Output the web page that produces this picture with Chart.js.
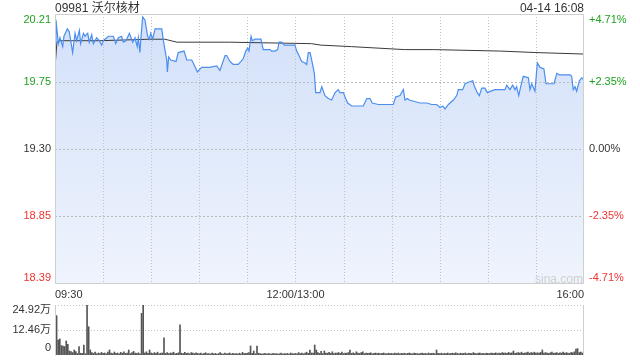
<!DOCTYPE html>
<html><head><meta charset="utf-8">
<script src="https://cdn.jsdelivr.net/npm/chart.js@4"></script>
<style>
html,body{margin:0;padding:0;background:#fff;width:640px;height:360px;overflow:hidden;font-family:'Liberation Sans','Noto Sans CJK SC',sans-serif;}
canvas{position:absolute;left:0;}
#main{top:0;}
#vol{top:300px;}
.t{position:absolute;font-size:12px;color:#333;line-height:16px;white-space:nowrap;}
</style></head>
<body>
<canvas id="main" width="640" height="300"></canvas>
<canvas id="vol" width="640" height="60"></canvas>
<div class="t" style="left:55px;top:0px;">09981 沃尔核材</div>
<div class="t" style="right:56px;top:0px;">04-14 16:08</div>
<div class="t" style="left:535px;top:271px;color:#cfcfcf;font-size:12px;">sina.com</div>
<script>
const titleText = '09981 沃尔核材';
const priceTicks = [20.21, 19.75, 19.30, 18.85, 18.39];
const priceTickLabels = ['20.21', '19.75', '19.30', '18.85', '18.39'];
const pctTickLabels = ['+4.71%', '+2.35%', '0.00%', '-2.35%', '-4.71%'];
const timeTickMinutes = [0, 30, 60, 90, 120, 150, 180, 210, 240, 270, 300, 330];
const timeTickLabels = {0: '09:30', 150: '12:00/13:00', 330: '16:00'};
const volTicks = [0, 12.46, 24.92];
const volTickLabels = ['0', '12.46万', '24.92万'];

const priceMinutes = [0,0.6,2.1,3.1,4.8,5.6,7.7,8.9,11.0,12.5,13.5,15.2,16.0,17.7,18.7,20.4,21.4,22.9,23.9,26.0,27.6,29.1,30.1,32.3,33.3,36.4,37.9,39.5,41.6,42.6,44.3,46.4,48.5,49.9,51.3,52.0,53.0,53.6,54.7,56.1,57.8,58.8,59.7,60.9,62.4,66.6,67.6,69.7,70.1,70.9,72.2,75.5,76.9,80.5,82.2,85.3,86.7,88.8,91.5,94.6,96.3,100.9,102.9,106.1,107.1,109.2,110.2,111.2,114.3,116.0,117.5,119.0,120.2,121.0,122.3,123.1,124.8,128.5,129.9,134.1,135.2,137.2,138.9,139.7,141.4,143.0,149.7,150.8,152.2,153.9,156.0,157.0,158.0,159.1,160.5,161.8,162.6,165.3,166.4,168.4,170.5,172.6,174.7,176.7,177.8,179.9,181.3,182.6,185.1,192.3,194.5,196.5,197.9,201.7,211.0,212.5,215.2,217.3,218.3,219.8,221.0,227.7,231.9,235.0,238.1,240.2,241.9,243.3,245.4,248.5,250.6,251.6,254.3,255.8,257.8,260.6,261.4,263.4,264.7,266.2,268.2,269.7,271.8,274.5,276.5,278.7,280.7,281.8,283.8,285.5,287.0,288.0,289.3,290.5,292.1,295.3,296.3,297.4,299.4,300.9,302.6,305.0,306.3,311.3,313.0,314.6,321.3,322.3,323.3,324.4,325.4,327.1,328.6,329.6];
const priceValues = [20.01,20.17,20.01,20.05,19.99,20.06,20.11,20.09,19.95,20.08,20.03,20.10,20.01,20.08,20.06,20.08,20.02,20.07,20.01,20.05,20.03,20.00,20.03,20.05,20.06,20.06,20.01,20.05,20.06,20.02,20.03,20.08,20.02,20.05,19.99,20.05,19.95,20.05,20.19,20.17,20.06,20.04,20.08,20.04,20.11,20.11,20.03,19.90,19.82,19.92,19.90,19.89,19.95,19.96,19.90,19.90,19.87,19.82,19.85,19.85,19.85,19.86,19.83,19.93,19.93,19.89,19.88,19.87,19.87,19.89,19.91,19.96,19.98,19.96,20.06,20.03,20.04,20.04,19.97,19.97,19.96,19.96,19.97,20.02,20.02,20.00,20.00,19.96,19.93,19.89,19.88,19.87,19.95,19.95,19.88,19.81,19.68,19.68,19.72,19.66,19.64,19.63,19.68,19.70,19.68,19.68,19.64,19.61,19.59,19.59,19.64,19.64,19.61,19.60,19.60,19.65,19.66,19.70,19.63,19.64,19.63,19.61,19.61,19.60,19.60,19.58,19.59,19.57,19.60,19.63,19.66,19.70,19.70,19.74,19.75,19.76,19.73,19.68,19.66,19.71,19.71,19.68,19.69,19.70,19.70,19.70,19.70,19.73,19.70,19.73,19.70,19.72,19.66,19.72,19.79,19.78,19.70,19.74,19.69,19.88,19.85,19.84,19.74,19.74,19.81,19.80,19.80,19.79,19.70,19.72,19.69,19.76,19.78,19.77];

const avgMinutes = [0, 1.2, 3.1, 12.5, 28, 59, 68.6, 76, 109, 160, 166, 185, 218, 236, 278, 300, 330];
const avgValues = [19.85, 20.02, 20.03, 20.03, 20.03, 20.04, 20.04, 20.02, 20.02, 20.01, 20.00, 19.99, 19.97, 19.97, 19.96, 19.95, 19.94];

const volumes = [
8.3,19.6,7.5,8.0,4.7,4.5,4.2,7.0,5.3,2.0,1.7,1.2,2.5,1.7,0.8,4.2,0.9,0.8,5.0,0.6,24.92,14.1,2.5,1.2,0.8,1.5,0.6,1.0,0.7,1.3,
0.8,1.0,0.6,1.4,2.5,0.9,0.7,1.5,0.8,1.0,0.6,1.3,0.9,1.6,0.8,1.0,2.5,0.7,1.2,1.8,0.9,0.8,1.1,0.6,20.8,24.92,1.0,1.6,0.8,2.5,
1.0,0.7,1.2,0.8,1.4,0.6,0.9,1.0,8.6,0.8,1.2,0.7,1.0,0.9,1.4,0.6,0.8,1.1,15.0,0.9,0.7,1.3,0.8,1.0,0.6,1.2,0.9,0.7,1.1,0.8,
0.6,0.9,0.5,0.8,1.1,0.6,0.7,0.5,1.0,0.6,0.8,0.5,0.7,1.2,0.6,0.5,0.9,0.6,0.7,1.0,0.5,0.8,0.6,0.7,0.5,0.9,0.6,1.3,0.7,0.8,
0.9,1.2,4.5,0.8,2.0,0.6,4.5,0.9,0.7,0.5,0.6,0.8,0.5,0.7,0.6,0.5,0.8,0.6,0.7,0.5,0.6,0.9,0.5,0.7,0.6,0.8,0.5,1.0,0.7,0.6,
0.8,0.6,1.2,0.7,0.9,0.6,1.0,1.4,0.8,2.5,1.0,0.9,5.0,2.5,1.2,0.8,1.8,0.7,2.0,1.0,0.9,1.3,0.8,1.6,0.7,1.0,0.9,1.2,0.8,1.5,
0.7,1.0,0.9,1.2,2.5,0.8,1.1,0.7,1.6,0.9,0.8,1.2,1.6,0.7,1.0,0.8,0.9,1.1,0.6,0.8,1.0,0.7,0.9,0.6,0.8,1.0,0.7,0.6,0.9,0.7,
0.8,0.6,0.9,0.7,1.0,0.6,0.8,0.7,0.9,0.6,0.8,1.0,0.7,0.6,0.9,0.8,0.7,0.6,0.8,0.9,0.7,0.8,0.6,1.0,0.7,0.8,0.9,0.6,2.5,0.8,
0.7,0.9,0.6,0.8,0.7,1.0,0.6,0.8,0.9,0.7,1.1,0.8,0.6,0.9,0.7,0.8,1.0,0.6,0.9,0.8,0.7,1.2,0.8,0.6,0.9,1.0,0.7,0.8,0.6,0.9,
0.8,0.7,1.0,0.9,0.8,1.1,0.7,0.9,0.8,1.2,0.9,1.0,0.8,1.3,0.9,1.1,2.0,0.8,1.0,1.2,0.9,1.4,0.8,1.0,1.1,1.5,0.9,1.2,1.0,1.4,
0.9,1.1,1.0,1.3,2.5,0.9,1.2,1.0,0.8,1.1,1.5,0.9,1.0,1.2,0.8,1.1,1.0,1.5,0.9,1.2,1.0,0.8,1.3,1.1,1.6,3.0,3.2,1.2,1.5,1.0,
0.9];

const FONT = "'Liberation Sans','Noto Sans CJK SC',sans-serif";
const GREEN = '#1fa21f', RED = '#f03232', DARK = '#333';
function tickColor(i){ return i < 2 ? GREEN : (i === 2 ? DARK : RED); }

// dotted grid drawn from the chart's own scales, on top of the area fill
const dottedGrid = {
  id: 'dottedGrid',
  beforeDatasetDraw(chart, args, opts) {
    if (args.index !== opts.beforeIndex) return;
    const {ctx, chartArea: a, scales} = chart;
    ctx.save();
    ctx.lineWidth = 1;
    if (opts.vertical) {
      ctx.strokeStyle = '#c2c2c2';
      ctx.setLineDash([1, 2]);
      scales.x.ticks.forEach(t => {
        const px = Math.round(scales.x.getPixelForValue(t.value)) + 0.5;
        if (px <= a.left + 1 || px >= a.right - 1) return;
        ctx.beginPath(); ctx.moveTo(px, a.top); ctx.lineTo(px, a.bottom); ctx.stroke();
      });
    }
    ctx.strokeStyle = opts.hColor || '#bcbcbc';
    ctx.setLineDash(opts.hDash || [2, 2]);
    scales.y.ticks.forEach(t => {
      const py = Math.round(scales.y.getPixelForValue(t.value)) + 0.5;
      if (py >= a.bottom - 1) return;
      if (py <= a.top + 1 && !opts.top) return;
      ctx.beginPath(); ctx.moveTo(a.left, py); ctx.lineTo(a.right, py); ctx.stroke();
    });
    ctx.restore();
  }
};

const framePlugin = {
  id: 'frame',
  afterDraw(chart, args, opts) {
    const {ctx, chartArea: a} = chart;
    ctx.save();
    ctx.strokeStyle = '#cfcfcf';
    ctx.lineWidth = 1;
    ctx.beginPath();
    const l = Math.round(a.left) + 0.5, r = Math.round(a.right) - 0.5, t = Math.round(a.top) + 0.5, b = Math.round(a.bottom) - 0.5;
    if (opts.full) {
      ctx.rect(l, t, r - l, b - t);
    } else {
      ctx.moveTo(l, t); ctx.lineTo(l, b + 1);
      ctx.moveTo(r, t); ctx.lineTo(r, b + 1);
    }
    ctx.stroke();
    ctx.restore();
  }
};

const mainLabels = {
  id: 'mainLabels',
  afterDraw(chart) {
    const {ctx, chartArea: a} = chart;
    const ys = chart.scales.y;
    ctx.save();
    ctx.font = '11px ' + FONT;
    ctx.textBaseline = 'middle';
    priceTicks.forEach((v, i) => {
      let py = ys.getPixelForValue(v);
      py = Math.min(Math.max(py, a.top + 6), a.bottom - 6);
      ctx.fillStyle = tickColor(i);
      ctx.textAlign = 'right';
      ctx.fillText(priceTickLabels[i], a.left - 4, py);
      ctx.textAlign = 'left';
      ctx.fillText(pctTickLabels[i], a.right + 5, py);
    });
    ctx.restore();
  }
};

const volLabels = {
  id: 'volLabels',
  afterDraw(chart) {
    const {ctx, chartArea: a} = chart;
    const ys = chart.scales.y;
    ctx.save();
    ctx.font = '11px ' + FONT;
    ctx.textBaseline = 'middle';
    ctx.textAlign = 'right';
    ctx.fillStyle = DARK;
    volTicks.forEach((v, i) => {
      let py = ys.getPixelForValue(v);
      py = Math.min(Math.max(py, a.top + 5), a.bottom - 7);
      ctx.fillText(volTickLabels[i], a.left - 4, py);
    });
    ctx.restore();
  }
};

new Chart(document.getElementById('main'), {
  type: 'line',
  data: {
    datasets: [
      {
        data: priceMinutes.map((m, i) => ({x: m, y: priceValues[i]})),
        borderColor: '#4b8ef0',
        borderWidth: 1.2,
        pointRadius: 0,
        tension: 0,
        fill: 'start',
        backgroundColor: (c) => {
          const a = c.chart.chartArea;
          if (!a) return 'rgba(214,227,249,0.8)';
          const g = c.chart.ctx.createLinearGradient(0, a.top, 0, a.bottom);
          g.addColorStop(0, '#d2e0f9');
          g.addColorStop(1, '#eff4fd');
          return g;
        }
      },
      {
        data: avgMinutes.map((m, i) => ({x: m, y: avgValues[i]})),
        borderColor: '#3a3a3a',
        borderWidth: 1,
        pointRadius: 0,
        tension: 0,
        fill: false
      }
    ]
  },
  options: {
    responsive: false,
    animation: false,
    devicePixelRatio: 1,
    layout: {padding: {top: 14, right: 56, left: 0, bottom: 0}},
    plugins: {
      legend: {display: false}, tooltip: {enabled: false},
      frame: {full: true},
      filler: {drawTime: 'beforeDatasetsDraw'},
      dottedGrid: {vertical: true, beforeIndex: 1, hColor: '#bdbdbd', hDash: [2, 2]}
    },
    scales: {
      x: {
        type: 'linear', min: 0, max: 330,
        afterBuildTicks: (s) => { s.ticks = timeTickMinutes.map(v => ({value: v})); },
        afterFit: (s) => { s.height = 16; },
        ticks: {
          autoSkip: false, maxRotation: 0, align: 'inner', padding: 4,
          color: DARK, font: {size: 11, family: FONT},
          callback: (v) => timeTickLabels[v] || ''
        },
        grid: {display: false, drawTicks: false},
        border: {display: false}
      },
      y: {
        type: 'linear', min: 18.39, max: 20.21,
        afterBuildTicks: (s) => { s.ticks = priceTicks.map(v => ({value: v})); },
        afterFit: (s) => { s.width = 55; },
        ticks: {display: false},
        grid: {display: false, drawTicks: false},
        border: {display: false}
      }
    }
  },
  plugins: [dottedGrid, framePlugin, mainLabels]
});

new Chart(document.getElementById('vol'), {
  type: 'bar',
  data: {
    datasets: [{
      data: volumes.map((v, i) => ({x: i, y: v})),
      backgroundColor: '#555',
      barThickness: 1,
      categoryPercentage: 1,
      barPercentage: 1
    }]
  },
  options: {
    responsive: false,
    animation: false,
    devicePixelRatio: 1,
    layout: {padding: {top: 5, right: 56, left: 0, bottom: 5}},
    plugins: {
      legend: {display: false}, tooltip: {enabled: false},
      frame: {full: false},
      dottedGrid: {vertical: false, beforeIndex: 0, top: true, hColor: '#c4c4c4', hDash: [1, 2]}
    },
    scales: {
      x: {type: 'linear', min: 0, max: 330, offset: false, display: false},
      y: {
        type: 'linear', min: 0, max: 24.92,
        afterBuildTicks: (s) => { s.ticks = volTicks.map(v => ({value: v})); },
        afterFit: (s) => { s.width = 55; },
        ticks: {display: false},
        grid: {display: false, drawTicks: false},
        border: {display: false}
      }
    }
  },
  plugins: [dottedGrid, framePlugin, volLabels]
});
</script>
</body></html>
